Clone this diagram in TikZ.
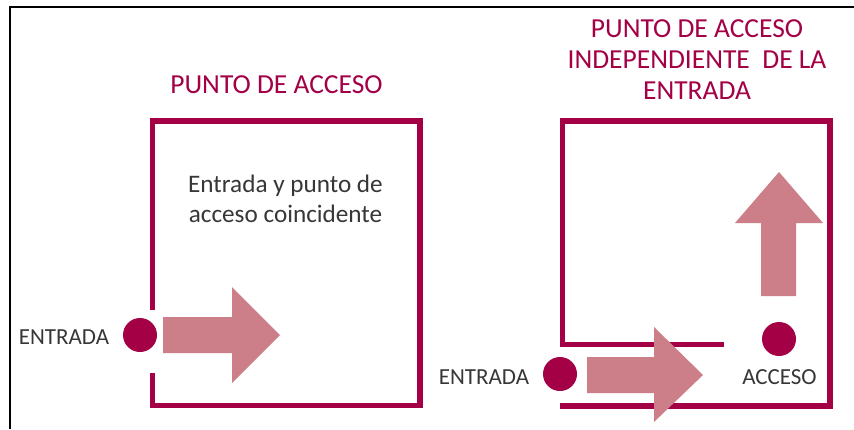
\documentclass[tikz,border=0pt]{standalone}
\usepackage{fontspec}
\setmainfont{Carlito}
\definecolor{wine}{RGB}{163,0,70}
\definecolor{rosa}{RGB}{205,127,137}
\definecolor{txt}{RGB}{55,55,55}
\begin{document}
\begin{tikzpicture}[x=1pt,y=-1pt,
  wall/.style={draw=wine,line width=5.5pt},
  dot/.style={circle,fill=wine,inner sep=0pt,minimum size=34pt},
  arr/.style={fill=rosa},
  title/.style={text=wine,font=\fontsize{27.5}{31.5}\selectfont,align=center,inner sep=0pt},
  body/.style={text=txt,font=\fontsize{25.2}{30}\selectfont,align=center,inner sep=0pt},
  lab/.style={text=txt,font=\fontsize{23}{26}\selectfont,inner sep=0pt,anchor=base}]
\useasboundingbox (0,0) rectangle (854,429);
\fill[white] (0,0) rectangle (854,429);
% outer frame
\draw[line width=2pt] (10,429) -- (10,7) -- (854,7);
% left box
\draw[wall] (152.5,310) -- (152.5,121) -- (420,121) -- (420,405.5) -- (152.5,405.5) -- (152.5,373);
\node[title,anchor=base] (t1) at (276.5,93) {PUNTO DE ACCESO};
\node[body,anchor=base] (b1) at (285.5,192) {Entrada y punto de};
\node[body,anchor=base] (b2) at (285.5,222) {acceso coincidente};
\node[dot] (e1) at (140,335) {};
\node[lab] (l1) at (64,344) {ENTRADA};
\fill[arr] (163,317) -- (232,317) -- (232,287) -- (280,335) -- (232,383) -- (232,353) -- (163,353) -- cycle;
% right box
\draw[wall] (724,344.5) -- (562.5,344.5) -- (562.5,121) -- (830,121) -- (830,406) -- (560,406);
\node[title,anchor=base] (t2a) at (697,37) {PUNTO DE ACCESO};
\node[title,anchor=base] (t2b) at (697,68) {INDEPENDIENTE\ \ DE LA};
\node[title,anchor=base] (t2c) at (697,99) {ENTRADA};
\node[dot] (e2) at (560,374) {};
\node[lab] (l2) at (484,384) {ENTRADA};
\node[dot] (a2) at (779,339) {};
\node[lab] (l3) at (779.5,384) {ACCESO};
\fill[arr] (587,357) -- (654,357) -- (654,327) -- (703,375) -- (654,422) -- (654,393) -- (587,393) -- cycle;
\fill[arr] (761,296) -- (761,223) -- (735,223) -- (779,172) -- (823,223) -- (796,223) -- (796,296) -- cycle;
\end{tikzpicture}
\end{document}
